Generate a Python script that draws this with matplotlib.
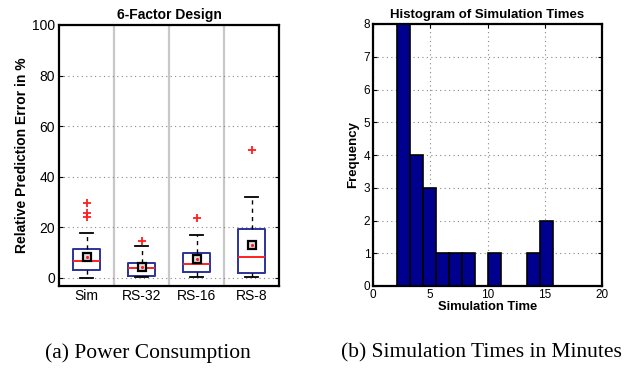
import matplotlib
matplotlib.use("Agg")
import matplotlib.pyplot as plt
import numpy as np

plt.rcParams['font.family'] = ['Liberation Sans', 'DejaVu Sans']

# --- data: box plot summaries ---
groups = ["Sim", "RS-32", "RS-16", "RS-8"]
whis_lo = [0.0, 0.3, 0.5, 0.3]
q1 = [3.3, 0.9, 2.5, 2.0]
medians = [6.7, 3.8, 5.5, 8.4]
means = [8.3, 4.4, 7.4, 13.1]
q3 = [11.5, 5.7, 10.0, 19.3]
whis_hi = [17.8, 12.5, 16.9, 31.9]
fliers = [[23.9, 25.8, 29.7], [14.4], [23.6], [50.5]]

# --- data: histogram of simulation times ---
bin_edges = [2.1, 3.23, 4.37, 5.5, 6.64, 7.77, 8.9, 10.04, 11.17, 12.3, 13.44, 14.57, 15.7]
counts = [8, 4, 3, 1, 1, 1, 0, 1, 0, 0, 1, 2]

box_blue = '#2b3399'
red = '#ff1f1f'
bar_blue = '#00008f'

fig = plt.figure(figsize=(6.39, 3.70), dpi=100)

# left panel: box plot
ax1 = fig.add_axes([59/639, 1-286/370, 220/639, 261/370])
stats = []
for i, g in enumerate(groups):
    stats.append(dict(label=g, whislo=whis_lo[i], q1=q1[i], med=medians[i],
                      q3=q3[i], whishi=whis_hi[i], fliers=fliers[i], mean=means[i]))
ax1.bxp(stats, positions=range(1, 5), widths=0.5, showmeans=False,
        boxprops=dict(color=box_blue, linewidth=1.4),
        medianprops=dict(color=red, linewidth=1.4),
        whiskerprops=dict(color='k', linestyle=(0, (3, 3)), linewidth=1.0),
        capprops=dict(color='k', linewidth=1.3),
        flierprops=dict(marker='+', markeredgecolor=red, markersize=6, markeredgewidth=1.3),
        capwidths=0.25)
# mean markers
ax1.plot(range(1, 5), means, 's', mfc='#dddddd', mec='k', mew=1.6, ms=5.5, zorder=4)
ax1.plot(range(1, 5), means, '.', color=red, ms=2.5, zorder=5)
for x in [1.5, 2.5, 3.5]:
    ax1.axvline(x, color='#c8c8c8', lw=1.6, zorder=0)
ax1.set_xlim(0.5, 4.5)
ax1.set_ylim(-3.2, 100)
ax1.set_yticks(range(0, 101, 20))
ax1.yaxis.grid(True, linestyle=(0, (1, 3)), color='#888888', lw=0.8)
ax1.set_axisbelow(True)
ax1.tick_params(axis='y', direction='in', right=True, length=3, labelsize=10, pad=3)
ax1.tick_params(axis='x', length=0, labelsize=10, pad=2)
for s in ax1.spines.values():
    s.set_linewidth(1.6)
ax1.set_title("6-Factor Design", fontsize=10, fontweight='bold', pad=4)
ax1.set_ylabel("Relative Prediction Error in %", fontsize=10, fontweight='bold', labelpad=2)

# right panel: histogram
ax2 = fig.add_axes([373/639, 1-286/370, 229/639, 262/370])
ax2.bar(bin_edges[:-1], counts, width=np.diff(bin_edges), align='edge',
        color=bar_blue, edgecolor='k', linewidth=1.2, zorder=3)
ax2.set_xlim(0, 20)
ax2.set_ylim(0, 8)
ax2.set_xticks(range(0, 21, 5))
ax2.set_yticks(range(0, 9))
ax2.grid(True, linestyle=(0, (1, 3)), color='#888888', lw=0.8)
ax2.set_axisbelow(True)
ax2.tick_params(direction='in', top=True, right=True, length=3, labelsize=8.5, pad=2)
for s in ax2.spines.values():
    s.set_linewidth(1.6)
ax2.set_title("Histogram of Simulation Times", fontsize=9.5, fontweight='bold', pad=4)
ax2.set_xlabel("Simulation Time", fontsize=9.4, fontweight='bold', labelpad=0.5)
ax2.set_ylabel("Frequency", fontsize=9.5, fontweight='bold', labelpad=3)

# captions
fig.text(148/639, 1-353/370, "(a) Power Consumption", family='Liberation Serif',
         fontsize=15.5, ha='center', va='center')
fig.text(481/639, 1-353/370, "(b) Simulation Times in Minutes", family='Liberation Serif',
         fontsize=15.5, ha='center', va='center')

fig.savefig("out.png", dpi=100)
